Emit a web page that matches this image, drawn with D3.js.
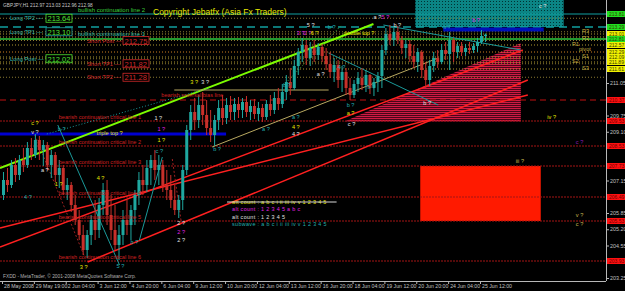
<!DOCTYPE html>
<html>
<head>
<meta charset="utf-8">
<script src="https://cdn.jsdelivr.net/npm/d3@7"></script>
<style>
  body { margin: 0; background: #000; }
  svg text { font-family: 'Liberation Sans', Arial, sans-serif; }
</style>
</head>
<body>
<div id="root"></div>
<script>
// GBPJPY H1, 28 May - 25 Jun 2008. one candle = 4 H1 bars
const timeBars = [0, 32, 64, 96, 128, 160, 192, 224, 256, 288, 320, 352, 384, 416, 448, 480]
const timeLabels = ['28 May 2008', '29 May 19:00', '2 Jun 04:00', '3 Jun 12:00', '4 Jun 20:00',
  '6 Jun 04:00', '9 Jun 12:00', '10 Jun 20:00', '12 Jun 04:00', '13 Jun 12:00', '16 Jun 20:00',
  '18 Jun 04:00', '19 Jun 12:00', '20 Jun 20:00', '24 Jun 04:00', '25 Jun 12:00']
// only the ticks not hidden under price tags
const priceTicks = [211.05, 209.75, 209.10, 207.15, 205.85, 205.20, 204.55, 203.25]

// [open, high, low, close]
const ohlc = [
  [206.57, 207.49, 206.37, 207.17], [207.17, 207.65, 206.69, 206.97], [206.97, 207.97, 206.85, 207.77],
  [207.77, 208.05, 207.09, 207.37], [207.37, 208.17, 207.17, 207.97], [207.97, 208.45, 207.49, 207.77],
  [207.77, 208.69, 207.65, 208.45], [208.45, 208.85, 207.97, 208.17], [208.17, 209.01, 208.05, 208.77],
  [208.77, 208.93, 207.97, 208.37], [208.37, 208.77, 207.73, 208.57], [208.57, 208.69, 207.57, 207.77],
  [207.77, 208.37, 207.25, 208.17], [208.17, 208.29, 207.09, 207.37], [207.37, 207.97, 206.85, 207.65],
  [207.65, 207.77, 206.57, 206.77], [206.77, 207.25, 206.37, 206.97], [206.97, 207.09, 205.89, 206.17],
  [206.17, 206.57, 205.37, 205.57], [205.57, 205.97, 204.77, 204.97], [204.97, 205.37, 204.17, 204.37],
  [204.37, 205.17, 204.05, 204.97], [204.97, 205.77, 204.57, 205.57], [205.57, 206.37, 204.77, 205.17],
  [205.17, 206.45, 204.85, 206.17], [206.17, 207.05, 205.77, 206.77], [206.77, 207.17, 205.37, 205.77],
  [205.77, 206.57, 204.77, 205.17], [205.17, 206.17, 204.37, 204.57], [204.57, 205.37, 203.97, 204.97],
  [204.97, 205.97, 204.57, 205.57], [205.57, 206.37, 204.97, 205.37], [205.37, 206.17, 204.77, 205.97],
  [205.97, 206.77, 205.37, 206.57], [206.57, 207.49, 206.17, 207.17], [207.17, 207.77, 206.57, 206.97],
  [206.97, 207.97, 206.69, 207.65], [207.65, 208.17, 206.97, 207.97], [207.97, 208.37, 207.17, 207.57],
  [207.57, 208.17, 206.97, 207.77], [207.77, 207.97, 206.69, 206.97], [206.97, 207.57, 206.37, 206.77],
  [206.77, 207.37, 206.05, 206.37], [206.37, 206.97, 205.77, 205.97], [205.97, 206.57, 205.65, 206.37],
  [206.37, 207.77, 205.97, 207.57], [207.57, 209.37, 207.37, 209.17], [209.17, 210.17, 208.77, 209.89],
  [209.89, 210.45, 209.17, 209.57], [209.57, 210.57, 209.25, 210.17], [210.17, 210.69, 209.37, 209.77],
  [209.77, 210.37, 208.97, 209.25], [209.25, 209.97, 208.69, 208.97], [208.97, 209.77, 208.53, 209.57],
  [209.57, 210.37, 209.17, 210.05], [210.05, 210.57, 209.37, 209.65], [209.65, 210.45, 209.41, 210.17],
  [210.17, 210.53, 209.57, 209.89], [209.89, 210.45, 209.57, 210.21], [210.21, 210.49, 209.65, 209.97],
  [209.97, 210.45, 209.65, 210.29], [210.29, 210.53, 209.69, 209.89], [209.89, 210.37, 209.57, 210.13],
  [210.13, 210.41, 209.61, 209.81], [209.81, 210.29, 209.53, 210.05], [210.05, 210.21, 209.49, 209.69],
  [209.69, 210.37, 209.57, 210.21], [210.21, 210.57, 209.73, 209.97], [209.97, 210.69, 209.81, 210.45],
  [210.45, 210.85, 209.97, 210.21], [210.21, 211.01, 210.05, 210.69], [210.69, 211.37, 210.37, 211.09],
  [211.09, 211.65, 210.57, 210.85], [210.85, 211.97, 210.77, 211.73], [211.73, 212.45, 211.37, 212.29],
  [212.29, 212.85, 211.89, 212.57], [212.57, 212.77, 211.77, 212.05], [212.05, 212.69, 211.73, 212.45],
  [212.45, 212.77, 211.89, 212.17], [212.17, 212.65, 211.97, 212.49], [212.49, 212.61, 211.89, 212.13],
  [212.13, 212.45, 211.57, 211.81], [211.81, 212.29, 211.25, 211.49], [211.49, 212.05, 211.09, 211.77],
  [211.77, 211.97, 210.85, 211.17], [211.17, 211.73, 210.69, 211.49], [211.49, 211.65, 210.57, 210.85],
  [210.85, 211.25, 210.37, 210.57], [210.57, 211.17, 210.45, 211.01], [211.01, 211.49, 210.69, 211.25],
  [211.25, 211.65, 210.77, 210.97], [210.97, 211.57, 210.69, 211.37], [211.37, 211.41, 210.61, 210.85],
  [210.85, 211.25, 210.53, 211.09], [211.09, 211.49, 210.69, 211.33], [211.33, 212.57, 210.85, 212.37],
  [212.37, 213.25, 212.17, 213.01], [213.01, 213.37, 212.57, 212.77], [212.77, 213.25, 212.53, 213.09],
  [213.09, 213.33, 212.61, 212.77], [212.77, 212.93, 212.21, 212.45], [212.45, 212.77, 212.05, 212.61],
  [212.61, 212.77, 211.89, 212.13], [212.13, 212.57, 211.65, 211.89], [211.89, 212.45, 211.49, 212.29],
  [212.29, 212.37, 211.25, 211.57], [211.57, 211.89, 210.85, 211.17], [211.17, 211.97, 210.93, 211.73],
  [211.73, 212.29, 211.49, 212.05], [212.05, 212.37, 211.65, 211.89], [211.89, 212.61, 211.81, 212.37],
  [212.37, 212.69, 211.97, 212.21], [212.21, 213.09, 211.57, 212.77], [212.77, 212.85, 211.89, 212.29],
  [212.29, 212.69, 212.05, 212.53], [212.53, 212.69, 212.13, 212.29], [212.29, 212.61, 212.13, 212.45],
  [212.45, 212.69, 212.21, 212.37], [212.37, 212.65, 212.25, 212.53], [212.53, 212.85, 212.29, 212.69],
  [212.69, 213.17, 212.61, 212.93], [212.93, 213.03, 212.69, 212.98]
]

// horizontal levels: [price, kind]
const topLevels = [[213.81, 'tealSolid'], [213.29, 'tealDash'], [212.81, 'greenSolid']]
const pivotNames = ['R3', 'R2', 'R1', 'pivot', 'S1', 'S2', 'S3']
const pivotPrices = [213.01, 212.89, 212.57, 212.29, 212.09, 211.89, 211.61]
const reversalLevel = 210.37
const criticalLevels = [209.53, 208.53, 207.73, 206.49, 205.53, 203.93]
const tripleTop = 209.01

// trade plan labels: [name, price, side]
const tradeLevels = [['Long TP2', 213.64, 'long'], ['Long TP1', 213.10, 'long'], ['Long Post', 212.02, 'long'],
  ['Short Post', 212.75, 'short'], ['Short TP1', 211.82, 'short'], ['Short TP2', 211.28, 'short']]

// trend lines: [bar0, price0, bar1, price1, kind]
const trendLines = [
  [-2, 207.65, 373, 213.41, 'lime'],
  [-2, 205.25, 528, 210.57, 'red'],
  [-2, 204.49, 523, 212.37, 'red'],
  [86, 203.89, 528, 211.17, 'red'],
  [56, 209.37, 118, 203.77, 'teal'],
  [138, 204.77, 161, 208.09, 'teal'],
  [383, 213.37, 521, 212.37, 'teal'],
  [328, 212.25, 438, 210.17, 'teal'],
  [45, 209.01, 208, 210.85, 'tealDot'],
  [283, 210.97, 341, 213.37, 'greenDot'],
  [211, 208.49, 438, 212.05, 'khaki'],
  [173, 210.77, 328, 210.77, 'khaki'],
  [33, 208.97, 83, 204.09, 'redDot'],
  [171, 208.01, 180, 205.49, 'redDot']
]
// zones
const redTriangle = [[343, 209.49], [521, 212.65], [521, 209.49]]
const redBox = [420, 541, 207.73, 205.53]
const tealBox = [415, 564, 214.6, 213.29]
const blueBand = [443, 544, 213.19]

// elliott wave labels: [bar, price, text, colour]
const waveLabels = [
  [193, 211.09, '3 ?', 'yellow'], [204, 211.09, '3 ?', 'white'], [310, 213.37, '5 ?', 'white'],
  [300, 213.05, '3 ?', 'magenta'], [307, 213.05, '2 ?', 'magenta'], [314, 213.05, '6 ?', 'yellow'],
  [331, 213.29, 'b ?', 'teal'], [377, 213.69, 'a ?', 'white'], [385, 213.69, '5 ?', 'magenta'],
  [397, 213.37, 'b ?', 'white'], [447, 213.29, 'ii ?', 'teal'], [476, 213.57, 'b ?', 'magenta'],
  [543, 214.13, 'c ?', 'white'], [341, 211.69, '4 ?', 'teal'], [320, 211.41, 'a ?', 'white'],
  [286, 210.97, 'b ?', 'teal'], [371, 210.89, 'b ?', 'teal'], [350, 210.17, 'b ?', 'teal'],
  [350, 209.85, 'a ?', 'yellow'], [351, 209.41, 'c ?', 'white'], [295, 209.29, '4 ?', 'yellow'],
  [295, 209.01, '4 ?', 'white'], [295, 209.69, 'a ?', 'teal'], [265, 209.21, 'a ?', 'teal'],
  [216, 208.41, 'b ?', 'teal'], [33, 209.45, 'c ?', 'yellow'], [33, 209.09, 'v ?', 'white'],
  [60, 209.21, 'b ?', 'teal'], [43, 207.57, 'a ?', 'white'], [157, 209.65, '1 ?', 'white'],
  [160, 209.21, '1 ?', 'magenta'], [160, 208.77, '1 ?', 'yellow'], [158, 208.33, 'c ?', 'teal'],
  [57, 207.01, '1 ?', 'yellow'], [99, 207.25, '4 ?', 'yellow'], [26, 206.49, '4 ?', 'teal'],
  [82, 203.69, '3 ?', 'yellow'], [119, 203.73, '5 ?', 'teal'], [180, 205.45, '2 ?', 'white'],
  [180, 205.09, '2 ?', 'magenta'], [180, 204.77, '2 ?', 'white'], [133, 204.69, 'b ?', 'teal'],
  [427, 210.25, 'b ?', 'white'], [552, 209.69, 'iv ?', 'yellow'], [580, 208.69, 'c ?', 'purple'],
  [520, 207.93, 'iii ?', 'khaki'], [580, 205.77, 'v ?', 'khaki'], [580, 205.41, 'c ?', 'khaki']
]
// legend of counts: [text, colour]
const countLegend = [['alt count : a b c i ii iii iv v 1 2 3 4 5', 'yellow'],
  ['alt count : 1 2 3 4 5 a b c', 'magenta'], ['alt count : 1 2 3 4 5', 'white'],
  ['subwave : a b c i ii iii iv v 1 2 3 4 5', 'teal']]

const colors = {
  yellow: '#e8e800', white: '#e0e0e0', teal: '#20b0b0', magenta: '#e020e0',
  purple: '#8a1ab0', khaki: '#c8b850', up: '#1fa8a0', down: '#c8302a'
}
const lineStyle = {
  lime: { stroke: '#7cfc00', width: 2, dash: null },
  red: { stroke: '#ff2020', width: 1.5, dash: null },
  teal: { stroke: '#1a9a9a', width: 1, dash: null },
  tealDot: { stroke: '#1a9a9a', width: 1, dash: '1,2' },
  greenDot: { stroke: '#3cb043', width: 1, dash: '1,2' },
  khaki: { stroke: '#b8a860', width: 1, dash: null },
  redDot: { stroke: '#a02020', width: 1, dash: '2,2' },
  tealSolid: { stroke: '#10a0a0', width: 1, dash: null },
  tealDash: { stroke: '#10a0a0', width: 1.5, dash: '8,5' },
  greenSolid: { stroke: '#2ecc40', width: 1.5, dash: null }
}

const W = 625
const H = 291
const plotRight = 606
const plotBottom = 281

const x = d3.scaleLinear().domain([0, 480]).range([2, 480])
const y = d3.scaleLinear().domain([203.25, 211.05]).range([278, 83])

const svg = d3.select('#root').append('svg')
  .attr('width', W).attr('height', H)
  .style('background', '#000')
  .style('display', 'block')

const defs = svg.append('defs')
defs.append('clipPath').attr('id', 'plotClip')
  .append('rect').attr('width', plotRight).attr('height', plotBottom)
const dots = defs.append('pattern').attr('id', 'tealDots')
  .attr('width', 3).attr('height', 3).attr('patternUnits', 'userSpaceOnUse')
dots.append('rect').attr('width', 3).attr('height', 3).attr('fill', '#0b8585')
dots.append('rect').attr('x', 1).attr('y', 1).attr('width', 1).attr('height', 1).attr('fill', '#033')
const hatch = defs.append('pattern').attr('id', 'redHatch')
  .attr('width', 2).attr('height', 2).attr('patternUnits', 'userSpaceOnUse')
hatch.append('rect').attr('width', 2).attr('height', 2).attr('fill', '#4a0618')
hatch.append('rect').attr('width', 2).attr('height', 1).attr('fill', '#d01a44')

const plot = svg.append('g').attr('clip-path', 'url(#plotClip)')

// zones
plot.append('rect')
  .attr('x', x(tealBox[0])).attr('width', x(tealBox[1]) - x(tealBox[0]))
  .attr('y', y(tealBox[2])).attr('height', y(tealBox[3]) - y(tealBox[2]))
  .attr('fill', 'url(#tealDots)')
plot.append('path')
  .attr('d', d3.line().x(d => x(d[0])).y(d => y(d[1]))(redTriangle) + 'Z')
  .attr('fill', 'url(#redHatch)')
plot.append('rect')
  .attr('x', x(redBox[0])).attr('width', x(redBox[1]) - x(redBox[0]))
  .attr('y', y(redBox[2])).attr('height', y(redBox[3]) - y(redBox[2]))
  .attr('fill', '#ff1a00')

// horizontal lines
function hline (price, style, x0 = 0, x1 = plotRight) {
  plot.append('line')
    .attr('x1', x0).attr('x2', x1)
    .attr('y1', y(price)).attr('y2', y(price))
    .attr('stroke', style.stroke).attr('stroke-width', style.width)
    .attr('stroke-dasharray', style.dash)
}
pivotPrices.forEach((p, i) => hline(p, { stroke: i === 3 ? '#d08020' : '#b09a30', width: 1, dash: '1,2' }))
tradeLevels.forEach(d => hline(d[1], { stroke: '#8a7a30', width: 1, dash: '1,2' }))
topLevels.forEach(d => hline(d[0], lineStyle[d[1]]))
hline(reversalLevel, { stroke: '#c01010', width: 1, dash: '6,4' })
criticalLevels.forEach(p => hline(p, { stroke: '#a51515', width: 1, dash: '2,1' }))
hline(tripleTop, { stroke: '#0000d0', width: 3, dash: null }, 0, x(225))
hline(blueBand[2], { stroke: '#0010b8', width: 4, dash: null }, x(blueBand[0]), x(blueBand[1]))

// trend lines
plot.selectAll('line.trend')
  .data(trendLines)
  .join('line')
  .attr('class', 'trend')
  .attr('x1', d => x(d[0])).attr('y1', d => y(d[1]))
  .attr('x2', d => x(d[2])).attr('y2', d => y(d[3]))
  .attr('stroke', d => lineStyle[d[4]].stroke)
  .attr('stroke-width', d => lineStyle[d[4]].width)
  .attr('stroke-dasharray', d => lineStyle[d[4]].dash)

// candles
const candles = plot.append('g')
candles.selectAll('line')
  .data(ohlc)
  .join('line')
  .attr('x1', (d, i) => x(i * 4 + 1.5)).attr('x2', (d, i) => x(i * 4 + 1.5))
  .attr('y1', d => y(d[1])).attr('y2', d => y(d[2]))
  .attr('stroke', d => d[3] >= d[0] ? colors.up : colors.down)
  .attr('stroke-width', 1)
candles.selectAll('rect')
  .data(ohlc)
  .join('rect')
  .attr('x', (d, i) => x(i * 4))
  .attr('width', 3)
  .attr('y', d => y(Math.max(d[0], d[3])))
  .attr('height', d => Math.max(1, Math.abs(y(d[0]) - y(d[3]))))
  .attr('fill', d => d[3] >= d[0] ? colors.up : colors.down)

// texts on the chart
const txt = plot.append('g')
txt.append('text').attr('x', 78).attr('y', y(topLevels[0][0]) - 2)
  .text('bullish continuation line 2').attr('fill', '#3ccf3c').attr('font-size', 6)
txt.append('text').attr('x', 78).attr('y', y(topLevels[2][0]) - 3)
  .text('bullish continuation line 1').attr('fill', '#26b0a0').attr('font-size', 6)
txt.append('text').attr('x', 153).attr('y', 15)
  .text('Copyright Jebatfx (Asia Fx Traders)').attr('fill', '#e8e800').attr('font-size', 8.5)
txt.append('text').attr('x', 3).attr('y', 7)
  .text('GBPJPY,H1  212.97 213.03 212.96 212.98').attr('fill', '#c8c8c8').attr('font-size', 4.8)
txt.append('text').attr('x', x(160)).attr('y', y(reversalLevel) - 3)
  .text('bearish reversal bias line').attr('fill', '#d02020').attr('font-size', 5.6)
txt.selectAll('text.crit')
  .data(criticalLevels)
  .join('text')
  .attr('class', 'crit')
  .attr('x', x(57)).attr('y', d => y(d) - 2.5)
  .text((d, i) => 'bearish continuation critical line ' + (i + 1))
  .attr('fill', '#d02020').attr('font-size', 5.6)
txt.append('text').attr('x', x(95)).attr('y', y(tripleTop) + 1)
  .text('triple top ?').attr('fill', '#e8e800').attr('font-size', 5.6)
txt.append('text').attr('x', x(343)).attr('y', y(213.05) + 2)
  .text('double top ?').attr('fill', '#e8e800').attr('font-size', 5.6)

// pivot names, set just off their lines
const pivotOffsetX = [10, 10, 0, 7, 10, 0, 10]
const pivotOffsetY = [-1, 3, 0.5, -1, 1, 1, 0.5]
txt.selectAll('text.piv')
  .data(pivotPrices)
  .join('text')
  .attr('class', 'piv')
  .attr('x', (d, i) => 572 + pivotOffsetX[i]).attr('y', (d, i) => y(d) + pivotOffsetY[i])
  .text((d, i) => pivotNames[i])
  .attr('fill', '#c8b040').attr('font-size', 5.6)

// trade plan labels with boxes
tradeLevels.forEach(d => {
  const long = d[2] === 'long'
  const x0 = long ? 10 : 87
  const col = long ? '#30b8a8' : '#d02828'
  const boxCol = long ? (d[0] === 'Long TP1' ? '#20a0a0' : '#50e030') : '#d02828'
  const yy = y(d[1])
  txt.append('text').attr('x', x0).attr('y', yy + 2).text(d[0] + ' \u2014')
    .attr('fill', col).attr('font-size', 5.8)
  txt.append('rect').attr('x', x0 + 36).attr('y', yy - 4).attr('width', 26).attr('height', 8)
    .attr('fill', '#000').attr('stroke', boxCol).attr('stroke-width', 0.8)
  txt.append('text').attr('x', x0 + 37.5).attr('y', yy + 3).text(d[1].toFixed(2))
    .attr('fill', long ? '#50e030' : '#d02828').attr('font-size', 7.5)
})

// wave labels
txt.selectAll('text.wave')
  .data(waveLabels)
  .join('text')
  .attr('class', 'wave')
  .attr('x', d => x(d[0])).attr('y', d => y(d[1]) + 2)
  .attr('text-anchor', 'middle')
  .text(d => d[2])
  .attr('fill', d => colors[d[3]])
  .attr('font-size', 5.6)

// counts legend
txt.selectAll('text.count')
  .data(countLegend)
  .join('text')
  .attr('class', 'count')
  .attr('x', x(231)).attr('y', (d, i) => y(206.29) + 2 + i * 7.3)
  .text(d => d[0])
  .attr('fill', d => colors[d[1]])
  .attr('font-size', 5.4)
  .attr('letter-spacing', 0.35)
txt.append('line')
  .attr('x1', x(226)).attr('x2', x(336))
  .attr('y1', y(206.29)).attr('y2', y(206.29))
  .attr('stroke', '#d8d8d8').attr('stroke-width', 1)

svg.append('text').attr('x', 3).attr('y', 278)
  .text('FXDD - MetaTrader, \u00a9 2001-2008 MetaQuotes Software Corp.')
  .attr('fill', '#b0b0b0').attr('font-size', 4.8)

// axes
const yAxis = svg.append('g')
  .attr('transform', `translate(${plotRight},0)`)
  .call(d3.axisRight(y).tickValues(priceTicks).tickSize(3).tickSizeOuter(0).tickFormat(d3.format('.2f')))
yAxis.select('.domain').attr('stroke', '#b8b8b8').attr('d', `M0.5,0V${plotBottom}`)
yAxis.selectAll('.tick line').attr('stroke', '#b8b8b8')
yAxis.selectAll('.tick text').attr('fill', '#c0c0c0').attr('font-size', 5.4).attr('x', 4)
  .style('font-family', 'Liberation Sans, Arial, sans-serif')

const xAxis = svg.append('g')
  .attr('transform', `translate(0,${plotBottom})`)
  .call(d3.axisBottom(x).tickValues(timeBars).tickSize(3).tickSizeOuter(0).tickFormat((d, i) => timeLabels[i]))
xAxis.select('.domain').attr('stroke', '#b8b8b8').attr('d', `M0,0.5H${plotRight}`)
xAxis.selectAll('.tick line').attr('stroke', '#b8b8b8')
xAxis.selectAll('.tick text').attr('fill', '#c0c0c0').attr('font-size', 5.2)
  .attr('text-anchor', 'start').attr('x', 1.5).attr('y', 3)
  .style('font-family', 'Liberation Sans, Arial, sans-serif')

// price tags on the right scale (R2 tag sits under the green line tag)
const tags = []
pivotPrices.forEach((p, i) => { if (i !== 1) tags.push([p, '#f0f000']) })
topLevels.forEach(d => tags.push([d[0], '#20e020']))
tags.push([reversalLevel, '#ff1010'])
criticalLevels.forEach(p => tags.push([p, '#ff1010']))
const tagG = svg.append('g')
tagG.selectAll('rect')
  .data(tags)
  .join('rect')
  .attr('x', plotRight + 1).attr('y', d => y(d[0]) - 3)
  .attr('width', W - plotRight - 1).attr('height', 6)
  .attr('fill', d => d[1])
tagG.selectAll('text')
  .data(tags)
  .join('text')
  .attr('x', plotRight + 3).attr('y', d => y(d[0]) + 1.8)
  .text(d => d[0].toFixed(2))
  .attr('fill', d => d[1] === '#ff1010' ? '#700000' : '#3a3a00')
  .attr('font-size', 5)
</script>
</body>
</html>
